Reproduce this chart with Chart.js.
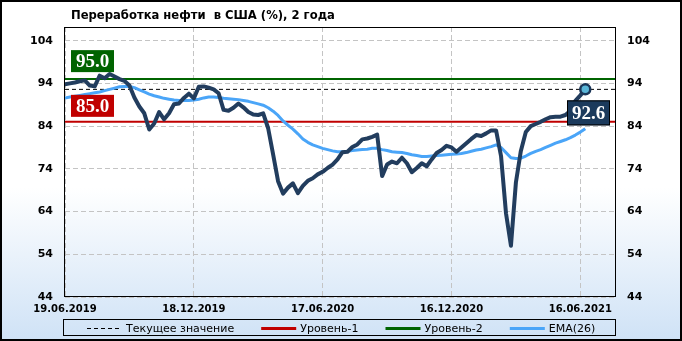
<!DOCTYPE html>
<html>
<head>
<meta charset="utf-8">
<script src="https://cdn.jsdelivr.net/npm/chart.js@4.4.0/dist/chart.umd.min.js"></script>
<style>
    html, body { margin: 0; padding: 0; background: #fff; }
    canvas { display: block; }
</style>
</head>
<body>
<canvas id="refiningChart" width="682" height="341"></canvas>
<script>
// --- DATA ---

const chartTitle = 'Переработка нефти  в США (%), 2 года';

// x axis: weeks since 19.06.2019
const tickWeeks = [0, 26, 52, 78, 104];
const tickDates = ['19.06.2019', '18.12.2019', '17.06.2020', '16.12.2020', '16.06.2021'];
const yTicks = [44, 54, 64, 74, 84, 94, 104];

// weekly refinery utilisation, %
const refining = [
    93.8, 94.0, 94.2, 94.5, 94.7, 93.5, 93.3, 95.8, 95.2, 96.2,
    95.6, 95.0, 94.6, 93.5, 90.7, 88.6, 87.0, 83.2, 84.6, 87.3,
    85.6, 87.0, 89.1, 89.3, 90.6, 91.6, 90.5, 93.2, 93.3, 93.0,
    92.6, 91.7, 87.8, 87.6, 88.3, 89.3, 88.4, 87.3, 86.7, 86.6,
    87.0, 83.5, 77.4, 71.1, 68.2, 69.6, 70.6, 68.3, 70.0, 71.2,
    71.8, 72.7, 73.3, 74.2, 75.0, 76.2, 77.9, 78.0, 79.1, 79.7,
    80.9, 81.1, 81.5, 82.0, 72.3, 75.0, 75.7, 75.3, 76.6, 75.3,
    73.2, 74.2, 75.3, 74.6, 76.2, 77.7, 78.4, 79.4, 79.0, 78.0,
    79.0, 80.0, 81.0, 81.9, 81.7, 82.3, 83.0, 83.0, 77.0, 63.6,
    56.0, 70.8, 78.2, 82.6, 84.0, 84.5, 85.0, 85.6, 86.1, 86.2,
    86.2, 86.6, 87.6, 89.9, 91.2, 92.6
];

const ema26 = [
    90.6, 90.8, 91.0, 91.2, 91.4, 91.6, 91.8, 92.0, 92.3, 92.6,
    92.9, 93.2, 93.3, 93.3, 93.0, 92.5, 92.0, 91.5, 91.1, 90.8,
    90.5, 90.3, 90.1, 90.0, 90.0, 90.0, 90.1, 90.3, 90.6, 90.8,
    90.8, 90.7, 90.5, 90.4, 90.3, 90.2, 90.0, 89.8, 89.5, 89.2,
    88.9, 88.3, 87.5, 86.5, 85.2, 84.2, 83.3, 82.2, 81.0, 80.2,
    79.6, 79.2, 78.8, 78.5, 78.2, 78.0, 78.0, 78.1, 78.3, 78.4,
    78.5, 78.6, 78.8, 78.8, 78.5, 78.3, 78.0, 77.9, 77.8, 77.6,
    77.3, 77.1, 76.9, 76.9, 77.0, 77.1, 77.2, 77.3, 77.4, 77.5,
    77.6, 77.8, 78.1, 78.4, 78.6, 78.9, 79.2, 79.6, 79.0, 77.8,
    76.6, 76.4, 76.5, 77.0, 77.6, 78.1, 78.5, 79.0, 79.5, 80.0,
    80.4, 80.8, 81.3, 81.9, 82.6, 83.4
];

const currentValue = 92.6;
const level1 = 85.0;
const level2 = 95.0;

const xMax = 111;
const yMin = 44;
const yMax = 107.2;

// --- HELPERS ---

const toPoints = (values) => values.map((v, i) => ({ x: i, y: v }));
const flatLine = (value) => [{ x: 0, y: value }, { x: xMax, y: value }];

function drawTag(ctx, text, left, top, w, h, fill, stroke) {
    ctx.save();
    ctx.fillStyle = fill;
    ctx.fillRect(left, top, w, h);
    if (stroke) {
        ctx.strokeStyle = stroke;
        ctx.lineWidth = 1;
        ctx.strokeRect(left + 0.5, top + 0.5, w - 1, h - 1);
    }
    ctx.fillStyle = '#ffffff';
    ctx.font = 'bold 19px "Liberation Serif"';
    ctx.textAlign = 'center';
    ctx.textBaseline = 'middle';
    ctx.fillText(text, left + w / 2, top + h / 2 + 1);
    ctx.restore();
}

// --- PLUGINS ---

const backgroundPlugin = {
    id: 'background',
    beforeDraw(chart) {
        const { ctx, width, height } = chart;
        const grad = ctx.createLinearGradient(0, 0, 0, height);
        grad.addColorStop(0, '#ffffff');
        grad.addColorStop(0.55, '#ffffff');
        grad.addColorStop(1, '#cfe2f6');
        ctx.save();
        ctx.fillStyle = grad;
        ctx.fillRect(0, 0, width, height);
        ctx.restore();
    }
};

const overlayPlugin = {
    id: 'overlay',
    afterDatasetsDraw(chart) {
        const { ctx, chartArea: area } = chart;
        const y = chart.scales.y;

        // plot frame
        ctx.save();
        ctx.strokeStyle = '#000000';
        ctx.lineWidth = 1;
        ctx.strokeRect(Math.round(area.left) - 0.5, Math.round(area.top) + 0.5,
            Math.round(area.right - area.left) + 1, Math.round(area.bottom - area.top) - 1);
        ctx.restore();

        drawTag(ctx, level2.toFixed(1), area.left + 6, y.getPixelForValue(level2) - 29, 43, 22, '#006400');
        drawTag(ctx, level1.toFixed(1), area.left + 6, y.getPixelForValue(level1) - 27, 43, 22, '#c00000');

        const meta = chart.getDatasetMeta(0);
        const last = meta.data[meta.data.length - 1];
        drawTag(ctx, currentValue.toFixed(1), area.right - 48, last.y + 11, 43, 25, '#1b3a5c', '#000000');
    },
    afterDraw(chart) {
        const { ctx, chartArea: area, width, height } = chart;

        // title
        ctx.save();
        ctx.fillStyle = '#000000';
        ctx.font = 'bold 11.6px "DejaVu Sans"';
        ctx.textBaseline = 'alphabetic';
        ctx.fillText(chartTitle, 71, 19);
        ctx.restore();

        // legend: dashed current value, level 1, level 2, EMA
        const order = [2, 3, 4, 1];
        const lineLen = 35, gap = 4, spacing = 27, cy = 328;
        ctx.save();
        ctx.font = '11px "DejaVu Sans"';
        const widths = order.map(i => ctx.measureText(chart.data.datasets[i].label).width);
        const total = widths.reduce((s, w) => s + lineLen + gap + w, 0) + spacing * (order.length - 1);
        let x = Math.round(width / 2 - total / 2);

        ctx.strokeStyle = '#000000';
        ctx.lineWidth = 1;
        ctx.strokeRect(Math.round(area.left) - 1.5, cy - 8.5, Math.round(area.right - area.left) + 2, 16);

        order.forEach((idx, k) => {
            const ds = chart.data.datasets[idx];
            ctx.beginPath();
            ctx.setLineDash(ds.borderDash || []);
            ctx.strokeStyle = ds.borderColor;
            ctx.lineWidth = ds.borderDash ? 1 : Math.max(ds.borderWidth, 3);
            ctx.moveTo(x, cy + 0.5);
            ctx.lineTo(x + lineLen, cy + 0.5);
            ctx.stroke();
            ctx.setLineDash([]);
            ctx.fillStyle = '#000000';
            ctx.textBaseline = 'middle';
            ctx.fillText(ds.label, x + lineLen + gap, cy + 1);
            x += lineLen + gap + widths[k] + spacing;
        });
        ctx.restore();

        // outer frame
        ctx.save();
        ctx.strokeStyle = '#000000';
        ctx.lineWidth = 2;
        ctx.strokeRect(1, 1, width - 2, height - 2);
        ctx.restore();
    }
};

// --- CHART ---

const gridStyle = {
    color: '#c4c4c4',
    lineWidth: 1,
    drawTicks: false
};

// in Chart.js v4 the grid line dash lives under border.dash
const gridBorder = { display: false, dash: [5, 3] };

const yAxisBase = {
    min: yMin,
    max: yMax,
    afterBuildTicks: (scale) => { scale.ticks = yTicks.map(v => ({ value: v })); },
    ticks: {
        padding: 12,
        color: '#000000',
        font: { family: 'DejaVu Sans', size: 11, weight: 'bold' }
    }
};

new Chart(document.getElementById('refiningChart').getContext('2d'), {
    type: 'line',
    data: {
        datasets: [{
            label: 'Переработка нефти',
            data: toPoints(refining),
            borderColor: '#223d5e',
            borderWidth: 4,
            borderJoinStyle: 'round',
            borderCapStyle: 'round',
            pointRadius: (c) => (c.dataIndex === refining.length - 1 ? 5 : 0),
            pointBackgroundColor: '#5ab6d8',
            pointBorderColor: '#1b3658',
            pointBorderWidth: 2.5,
            tension: 0
        }, {
            label: 'EMA(26)',
            data: toPoints(ema26),
            borderColor: '#4aa5f8',
            borderWidth: 3,
            borderJoinStyle: 'round',
            pointRadius: 0,
            tension: 0
        }, {
            label: 'Текущее значение',
            data: flatLine(currentValue),
            borderColor: '#000000',
            borderWidth: 1,
            borderDash: [4, 3],
            pointRadius: 0
        }, {
            label: 'Уровень-1',
            data: flatLine(level1),
            borderColor: '#c00000',
            borderWidth: 2,
            pointRadius: 0
        }, {
            label: 'Уровень-2',
            data: flatLine(level2),
            borderColor: '#006400',
            borderWidth: 2,
            pointRadius: 0
        }]
    },
    options: {
        responsive: false,
        animation: false,
        devicePixelRatio: 1,
        events: [],
        layout: { padding: { top: 27, left: 0, right: 0, bottom: 0 } },
        scales: {
            x: {
                type: 'linear',
                min: 0,
                max: xMax,
                afterBuildTicks: (scale) => { scale.ticks = tickWeeks.map(v => ({ value: v })); },
                afterFit: (scale) => { scale.height = 44; },
                border: gridBorder,
                grid: gridStyle,
                ticks: {
                    padding: 6,
                    maxRotation: 0,
                    autoSkip: false,
                    color: '#000000',
                    font: { family: 'DejaVu Sans', size: 10, weight: 'bold' },
                    callback: (value) => tickDates[tickWeeks.indexOf(value)] || ''
                }
            },
            y: {
                ...yAxisBase,
                position: 'left',
                afterFit: (scale) => { scale.width = 65; },
                border: gridBorder,
                grid: gridStyle
            },
            yRight: {
                ...yAxisBase,
                position: 'right',
                afterFit: (scale) => { scale.width = 67; },
                border: { display: false },
                grid: { drawOnChartArea: false, drawTicks: false }
            }
        },
        plugins: {
            legend: { display: false },
            tooltip: { enabled: false },
            title: { display: false }
        }
    },
    plugins: [backgroundPlugin, overlayPlugin]
});
</script>
</body>
</html>
